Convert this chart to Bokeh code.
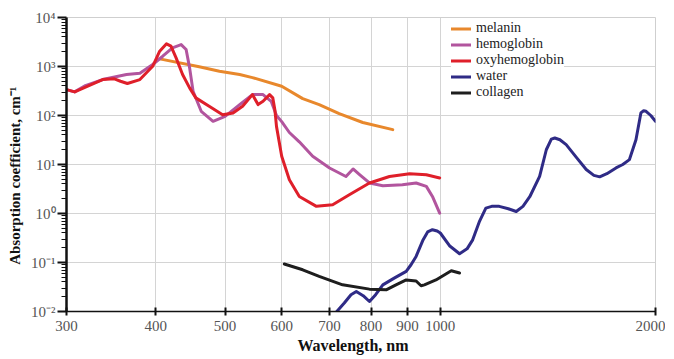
from bokeh.plotting import figure
from bokeh.models import FixedTicker, CustomJSTickFormatter, Legend, LegendItem, Range1d
from bokeh.embed import file_html
from bokeh.resources import INLINE

# ---- data ----
hemo_x = [300, 308, 318, 337, 364, 380, 396, 409, 422, 434, 441, 446, 451, 463, 481, 500, 524, 546, 565, 580, 590, 600, 615, 635, 663, 700, 738, 755, 771, 796, 831, 885, 925, 956, 975, 998]
hemo_y = [338, 303, 400, 541, 686, 730, 1100, 1620, 2400, 2800, 2220, 938, 312, 122, 76, 96, 167, 267, 267, 195, 100, 75, 45, 29, 14.7, 8.5, 5.7, 8.1, 6.2, 4.2, 3.7, 3.87, 4.2, 3.58, 2.23, 1.02]

oxy_x = [300, 308, 337, 350, 357, 365, 380, 396, 405, 414, 420, 427, 436, 446, 455, 475, 496, 513, 529, 546, 556, 565, 577, 583, 587, 590, 600, 615, 635, 671, 707, 746, 796, 849, 906, 956, 998]
oxy_y = [338, 303, 541, 560, 500, 449, 541, 1010, 2050, 2900, 2600, 1500, 686, 366, 229, 154, 104, 113, 154, 267, 167, 195, 267, 229, 130, 60, 14.7, 4.9, 2.23, 1.4, 1.51, 2.42, 4.2, 5.7, 6.5, 6.2, 5.3]

mel_x = [405, 460, 491, 524, 546, 600, 642, 677, 722, 779, 858]
mel_y = [1432, 985, 800, 686, 594, 396, 221, 167, 109, 72, 51.5]

water_x = [712, 734, 750, 763, 780, 796, 812, 831, 862, 896, 910, 925, 945, 960, 975, 990, 1000, 1030, 1064, 1090, 1110, 1135, 1158, 1180, 1209, 1245, 1277, 1305, 1334, 1377, 1407, 1430, 1446, 1470, 1500, 1550, 1600, 1640, 1671, 1710, 1761, 1800, 1839, 1878, 1908, 1925, 1940, 1970, 2000]
water_y = [0.009, 0.0149, 0.022, 0.0257, 0.021, 0.016, 0.022, 0.035, 0.048, 0.066, 0.09, 0.133, 0.28, 0.42, 0.467, 0.44, 0.4, 0.22, 0.151, 0.19, 0.29, 0.7, 1.29, 1.4, 1.4, 1.25, 1.1, 1.4, 2.2, 5.7, 20, 33, 34.8, 32, 25.5, 14, 7.9, 6.0, 5.6, 6.5, 8.5, 10, 12.6, 32, 113, 125, 122, 100, 76]

coll_x = [605, 642, 677, 730, 796, 840, 867, 896, 925, 940, 950, 986, 1036, 1064]
coll_y = [0.093, 0.071, 0.052, 0.035, 0.0286, 0.0277, 0.035, 0.044, 0.042, 0.0335, 0.035, 0.044, 0.068, 0.061]

x_ticks = [300, 400, 500, 600, 700, 800, 900, 1000, 2000]
y_ticks = [0.01, 0.1, 1, 10, 100, 1000, 10000]
y_minor = [m * t for t in y_ticks[:-1] for m in range(2, 10)]

series_names = ["melanin", "hemoglobin", "oxyhemoglobin", "water", "collagen"]
colors = ["#E8882C", "#B2559E", "#DF1F2A", "#2F2B86", "#1E1E1E"]

FONT = "'Liberation Serif', 'Times New Roman', serif"

p = figure(width=665, height=358, x_axis_type="log", y_axis_type="log",
           x_range=Range1d(300, 2000), y_range=Range1d(0.01, 10000),
           output_backend="svg", toolbar_location=None,
           min_border_left=66, min_border_right=10, min_border_top=17, min_border_bottom=47)

p.outline_line_color = "#cfcfcf"
p.background_fill_color = "white"

renderers = []
for xs, ys, c in [(mel_x, mel_y, colors[0]), (hemo_x, hemo_y, colors[1]),
                  (oxy_x, oxy_y, colors[2]), (water_x, water_y, colors[3]),
                  (coll_x, coll_y, colors[4])]:
    r = p.line(xs, ys, line_color=c, line_width=3, line_join="round", line_cap="round")
    renderers.append(r)

# axes
p.xaxis.ticker = FixedTicker(ticks=x_ticks)
p.xaxis.formatter = CustomJSTickFormatter(code="return String(Math.round(tick));")
p.yaxis.ticker = FixedTicker(ticks=y_ticks, minor_ticks=y_minor)
p.yaxis.formatter = CustomJSTickFormatter(code="""
const e = Math.round(Math.log10(tick));
const sup = {'-':'\u207B','0':'\u2070','1':'\u00B9','2':'\u00B2','3':'\u00B3','4':'\u2074','5':'\u2075','6':'\u2076','7':'\u2077','8':'\u2078','9':'\u2079'};
return '10' + String(e).split('').map(c => sup[c]).join('');
""")

for ax in (p.xaxis[0], p.yaxis[0]):
    ax.major_label_text_font = FONT
    ax.major_label_text_font_size = "15px"
    ax.major_label_text_color = "#555555"
    ax.axis_label_text_font = FONT
    ax.axis_label_text_font_style = "bold"
    ax.axis_label_text_color = "#111111"
    ax.axis_line_color = "#111111"
    ax.major_tick_line_color = "#111111"
    ax.minor_tick_line_color = "#111111"

p.xaxis.axis_label = "Wavelength, nm\u00A0\u00A0\u00A0\u00A0"
p.xaxis.axis_label_text_font_size = "16px"
p.xaxis.axis_line_width = 1.5
p.xaxis.major_tick_in = 4
p.xaxis.major_tick_out = 4
p.xaxis.major_tick_line_width = 2
p.xaxis.minor_tick_line_color = None
p.xaxis.major_label_standoff = 5
p.xaxis.axis_label_standoff = 3

p.yaxis.axis_label = "Absorption coefficient, cm\u207B\u00B9" + "\u00A0" * 6
p.yaxis.axis_label_text_font_size = "15px"
p.yaxis.axis_line_width = 2.5
p.yaxis.major_tick_in = 0
p.yaxis.major_tick_out = 9
p.yaxis.major_tick_line_width = 2
p.yaxis.minor_tick_in = 0
p.yaxis.minor_tick_out = 5
p.yaxis.minor_tick_line_width = 1
p.yaxis.major_label_standoff = 2
p.yaxis.axis_label_standoff = 5

# grid
p.xgrid.ticker = FixedTicker(ticks=x_ticks)
p.ygrid.ticker = FixedTicker(ticks=y_ticks)
p.xgrid.grid_line_color = "#d4d4d4"
p.ygrid.grid_line_color = "#d4d4d4"

legend = Legend(items=[LegendItem(label=n, renderers=[r]) for n, r in zip(series_names, renderers)],
                location=(385, 211))
legend.label_text_font = FONT
legend.label_text_font_size = "14px"
legend.label_text_color = "#222222"
legend.label_height = 15
legend.glyph_height = 15
legend.glyph_width = 20
legend.label_standoff = 5
legend.spacing = 0
legend.padding = 1
legend.margin = 0
legend.border_line_color = None
legend.background_fill_color = "white"
legend.background_fill_alpha = 1.0
p.add_layout(legend, "center")

open("out.html", "w").write(file_html(p, INLINE))
